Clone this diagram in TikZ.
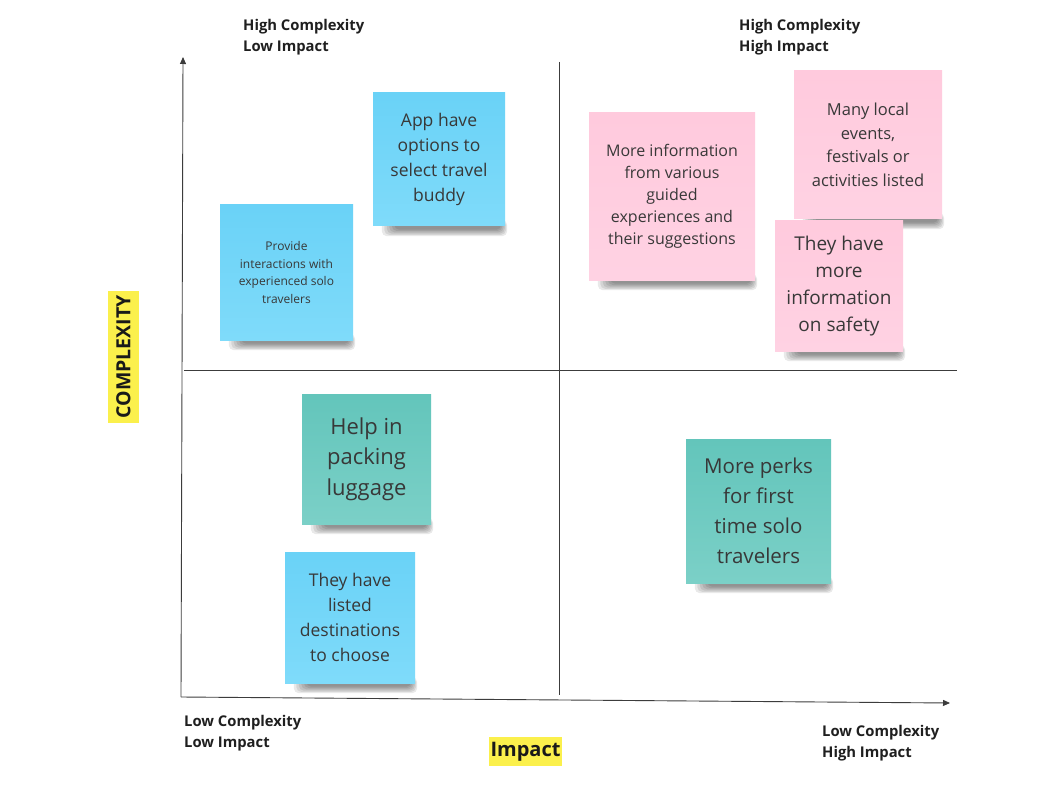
\documentclass[tikz,border=0pt]{standalone}
\usepackage{fontspec}
\setmainfont{Open Sans}
\usetikzlibrary{arrows.meta,backgrounds,calc}

\definecolor{noteblueA}{HTML}{6AD2F7}
\definecolor{noteblueB}{HTML}{7FDBFA}
\definecolor{notepinkA}{HTML}{FFCADD}
\definecolor{notepinkB}{HTML}{FFD2E3}
\definecolor{notetealA}{HTML}{63C5BB}
\definecolor{notetealB}{HTML}{7BD0C7}
\definecolor{notetext}{HTML}{383838}
\definecolor{axisgray}{HTML}{3C3C3C}
\definecolor{marker}{HTML}{FBF04C}

\tikzset{
  note/.style={rectangle, inner sep=0pt, align=center, text=notetext},
  bluenote/.style={note, top color=noteblueA, bottom color=noteblueB},
  pinknote/.style={note, top color=notepinkA, bottom color=notepinkB},
  tealnote/.style={note, top color=notetealA, bottom color=notetealB},
  notefont/.style 2 args={font=\fontsize{#1}{#2}\selectfont},
  axis/.style={draw=axisgray, line width=0.9pt, -{Triangle[length=7pt,width=6pt]}},
  divider/.style={draw=axisgray, line width=0.9pt},
  corner/.style={align=left, anchor=north west, inner sep=0pt, text=black!88,
    font=\bfseries\fontsize{14.8}{21}\selectfont},
  highlight/.style={fill=marker, inner sep=2pt, text=black!90},
  shadowlayer/.style={fill=black, opacity=0.085, rounded corners=5pt}
}

% soft shadow under the lower edge of a sticky note, built from stacked translucent bands
\newcommand\noteshadow[1]{%
  \foreach \k in {0,...,5}{%
    \fill[shadowlayer]
      ($(#1.south west)+(9+2.5*\k,-10+1.3*\k)$) rectangle ($(#1.south east)+(2-1.2*\k,6)$);}}

\begin{document}
\begin{tikzpicture}[x=1pt,y=1pt]
\useasboundingbox (0,0) rectangle (1062,-786);

% axes and quadrant dividers
\coordinate (origin) at (181,-697);
\coordinate (ytop) at (183,-57);
\coordinate (xend) at (950,-703);
\coordinate (vtop) at (559,-62);
\coordinate (vbot) at (559,-695);
\coordinate (hleft) at (184,-370);
\coordinate (hright) at (957,-370);
\draw[axis] (origin) -- (ytop);
\draw[axis] (origin) -- (xend);
\draw[divider] (vtop) -- (vbot);
\draw[divider] (hleft) -- (hright);

% quadrant labels
\node[corner] (tl) at (243,-19) {High Complexity\\Low Impact};
\node[corner] (tr) at (739,-19) {High Complexity\\High Impact};
\node[corner] (bl) at (184,-715) {Low Complexity\\Low Impact};
\node[corner] (br) at (822,-725) {Low Complexity\\High Impact};

% axis titles
\node[highlight, font=\bfseries\fontsize{20}{24}\selectfont, minimum width=73pt, minimum height=29pt] (impact) at (525.5,-751.5) {Impact};
\node[highlight, rotate=90, font=\bfseries\fontsize{19.5}{23}\selectfont, minimum width=132pt, minimum height=31pt] (complexity) at (123.5,-357) {COMPLEXITY};

% sticky notes
\node[bluenote, notefont={12}{17.5}, minimum width=133pt, minimum height=135pt] (n1) at (286.5,-272.5)
  {Provide\\interactions with\\experienced solo\\travelers};
\node[bluenote, notefont={17.5}{25}, minimum width=132pt, minimum height=133pt] (n2) at (439,-159.5)
  {App have\\options to\\select travel\\buddy};
\node[pinknote, notefont={16}{22}, minimum width=166pt, minimum height=167pt] (n3) at (672,-196.5)
  {More information\\from various\\guided\\experiences and\\their suggestions};
\node[pinknote, notefont={16.5}{23.5}, minimum width=148pt, minimum height=148pt] (n4) at (868,-145)
  {Many local\\events,\\festivals or\\activities listed};
\node[pinknote, notefont={19}{27}, minimum width=128pt, minimum height=130pt] (n5) at (839,-286)
  {They have\\more\\information\\on safety};
\node[tealnote, notefont={22}{30.5}, minimum width=129pt, minimum height=130pt] (n6) at (366.5,-459)
  {Help in\\packing\\luggage};
\node[bluenote, notefont={17.5}{25}, minimum width=130pt, minimum height=131pt] (n7) at (350,-617.5)
  {They have\\listed\\destinations\\to choose};
\node[tealnote, notefont={20.5}{30}, minimum width=145pt, minimum height=144pt] (n8) at (758.5,-511)
  {More perks\\for first\\time solo\\travelers};

\begin{scope}[on background layer]
  \fill[white] (0,0) rectangle (1062,-786);
  \noteshadow{n1}\noteshadow{n2}\noteshadow{n3}\noteshadow{n4}
  \noteshadow{n5}\noteshadow{n6}\noteshadow{n7}\noteshadow{n8}
\end{scope}
\end{tikzpicture}
\end{document}
